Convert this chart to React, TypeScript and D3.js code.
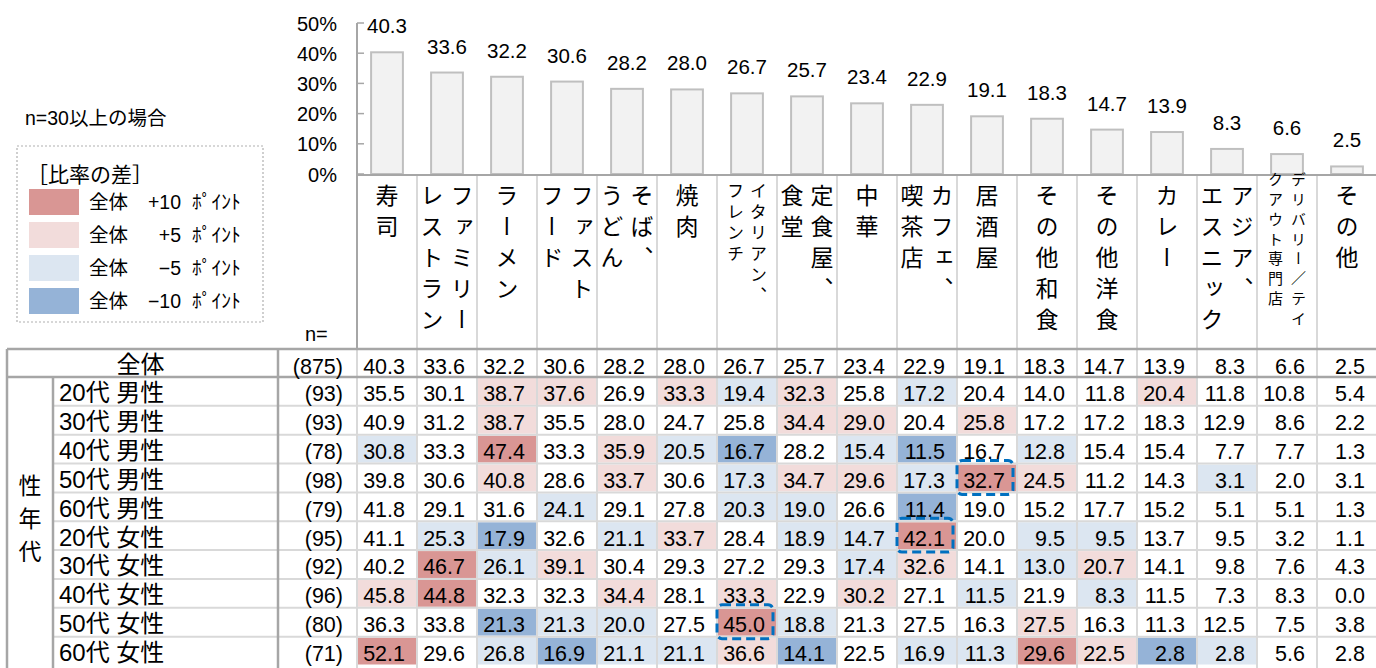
import React from 'react';
import * as d3 from 'd3';

const categories = ['寿司', 'ファミリーレストラン', 'ラーメン', 'ファストフード', 'そば、うどん', '焼肉', 'イタリアン、フレンチ', '定食屋、食堂', '中華', 'カフェ、喫茶店', '居酒屋', 'その他和食', 'その他洋食', 'カレー', 'アジア、エスニック', 'デリバリー／テイクアウト専門店', 'その他'];

// vertical header columns, listed right-to-left
const headerLines = [['寿司'], ['ファミリー', 'レストラン'], ['ラーメン'], ['ファスト', 'フード'], ['そば、', 'うどん'], ['焼肉'], ['イタリアン、', 'フレンチ'], ['定食屋、', '食堂'], ['中華'], ['カフェ、', '喫茶店'], ['居酒屋'], ['その他和食'], ['その他洋食'], ['カレー'], ['アジア、', 'エスニック'], ['デリバリー／テイ', 'クアウト専門店'], ['その他']];

const totalLabel = '全体';
const totalN = 875;
const totalValues = [40.3, 33.6, 32.2, 30.6, 28.2, 28.0, 26.7, 25.7, 23.4, 22.9, 19.1, 18.3, 14.7, 13.9, 8.3, 6.6, 2.5];

const groupLabel = '性年代';
const rowLabels = ['20代 男性', '30代 男性', '40代 男性', '50代 男性', '60代 男性', '20代 女性', '30代 女性', '40代 女性', '50代 女性', '60代 女性'];
const rowN = [93, 93, 78, 98, 79, 95, 92, 96, 80, 71];
const rowValues = [
  [35.5, 30.1, 38.7, 37.6, 26.9, 33.3, 19.4, 32.3, 25.8, 17.2, 20.4, 14.0, 11.8, 20.4, 11.8, 10.8, 5.4],
  [40.9, 31.2, 38.7, 35.5, 28.0, 24.7, 25.8, 34.4, 29.0, 20.4, 25.8, 17.2, 17.2, 18.3, 12.9, 8.6, 2.2],
  [30.8, 33.3, 47.4, 33.3, 35.9, 20.5, 16.7, 28.2, 15.4, 11.5, 16.7, 12.8, 15.4, 15.4, 7.7, 7.7, 1.3],
  [39.8, 30.6, 40.8, 28.6, 33.7, 30.6, 17.3, 34.7, 29.6, 17.3, 32.7, 24.5, 11.2, 14.3, 3.1, 2.0, 3.1],
  [41.8, 29.1, 31.6, 24.1, 29.1, 27.8, 20.3, 19.0, 26.6, 11.4, 19.0, 15.2, 17.7, 15.2, 5.1, 5.1, 1.3],
  [41.1, 25.3, 17.9, 32.6, 21.1, 33.7, 28.4, 18.9, 14.7, 42.1, 20.0, 9.5, 9.5, 13.7, 9.5, 3.2, 1.1],
  [40.2, 46.7, 26.1, 39.1, 30.4, 29.3, 27.2, 29.3, 17.4, 32.6, 14.1, 13.0, 20.7, 14.1, 9.8, 7.6, 4.3],
  [45.8, 44.8, 32.3, 32.3, 34.4, 28.1, 33.3, 22.9, 30.2, 27.1, 11.5, 21.9, 8.3, 11.5, 7.3, 8.3, 0.0],
  [36.3, 33.8, 21.3, 21.3, 20.0, 27.5, 45.0, 18.8, 21.3, 27.5, 16.3, 27.5, 16.3, 11.3, 12.5, 7.5, 3.8],
  [52.1, 29.6, 26.8, 16.9, 21.1, 21.1, 36.6, 14.1, 22.5, 16.9, 11.3, 29.6, 22.5, 2.8, 2.8, 5.6, 2.8],
];
// difference level vs total: 2 = +10pt, 1 = +5pt, -1 = -5pt, -2 = -10pt
const rowLevels = [
  [0, 0, 1, 1, 0, 1, -1, 1, 0, -1, 0, 0, 0, 1, 0, 0, 0],
  [0, 0, 1, 0, 0, 0, 0, 1, 1, 0, 1, 0, 0, 0, 0, 0, 0],
  [-1, 0, 2, 0, 1, -1, -2, 0, -1, -2, 0, -1, 0, 0, 0, 0, 0],
  [0, 0, 1, 0, 1, 0, -1, 1, 1, -1, 2, 1, 0, 0, -1, 0, 0],
  [0, 0, 0, -1, 0, 0, -1, -1, 0, -2, 0, 0, 0, 0, 0, 0, 0],
  [0, -1, -2, 0, -1, 1, 0, -1, -1, 2, 0, -1, -1, 0, 0, 0, 0],
  [0, 2, -1, 1, 0, 0, 0, 0, -1, 1, 0, -1, 1, 0, 0, 0, 0],
  [1, 2, 0, 0, 1, 0, 1, 0, 1, 0, -1, 0, -1, 0, 0, 0, 0],
  [0, 0, -2, -1, -1, 0, 2, -1, 0, 0, 0, 1, 0, 0, 0, 0, 0],
  [2, 0, -1, -2, -1, -1, 1, -2, 0, -1, -1, 2, 1, -2, -1, 0, 0],
];
const highlights = [
  { row: 3, col: 10 },
  { row: 5, col: 9 },
  { row: 8, col: 6 },
];

const legendTitle = '［比率の差］';
const legendLevels = [2, 1, -1, -2];
const legendLabels = ['+10', '+5', '−5', '−10'];
const legendUnit = 'ﾎﾟｲﾝﾄ';
const noteText = 'n=30以上の場合';
const axisTicks = [0, 10, 20, 30, 40, 50];

const levelColor: Record<string, string> = { '2': '#d99694', '1': '#f2dcdb', '-1': '#dce6f1', '-2': '#95b3d7', '0': 'none' };

const NUM = "'Liberation Sans', Arial, sans-serif";
const JP = "'Liberation Sans', 'Noto Sans CJK JP', sans-serif";
const DARK = '#a6a6a6';
const LIGHT = '#d9d9d9';

export default function App() {
  const W = 1376, H = 668;
  const x = d3.scaleBand<string>().domain(categories).range([357, 357 + 60 * categories.length]);
  const bw = x.bandwidth();
  const y = d3.scaleLinear().domain([0, 50]).range([174, 23]);
  const rowY = d3.scaleBand<string>().domain(rowLabels).range([377, 377 + 28.85 * rowLabels.length]);
  const rh = rowY.bandwidth();
  const totalTop = 349, totalBottom = 377;
  const tableLeft = 7, labelSep = 278, groupSep = 53;
  const barW = bw * 0.53;
  const fmt = d3.format('.1f');

  return (
    <svg width={W} height={H} style={{ position: 'absolute', left: 0, top: 0, background: '#fff' }}>
      <rect x={0} y={0} width={W} height={H} fill="#fff" />
      {/* note */}
      <text x={25} y={125} fontSize={19.5} fontFamily={JP} fill="#000">{noteText}</text>

      {/* legend */}
      <rect x={17} y={146} width={246} height={176} fill="none" stroke="#b0b0b0" strokeWidth={1.2} strokeDasharray="2 2" />
      <text x={27} y={182} fontSize={21} fontFamily={JP}>{legendTitle}</text>
      {legendLevels.map((lv, i) => {
        const cy = 202 + i * 33;
        return (
          <g key={i}>
            <rect x={29} y={cy - 13} width={50} height={26} fill={levelColor[String(lv)]} />
            <text x={89} y={cy + 7} fontSize={19.5} fontFamily={JP}>{totalLabel}</text>
            <text x={181} y={cy + 7} fontSize={19.5} fontFamily={NUM} textAnchor="end">{legendLabels[i]}</text>
            <text x={192} y={cy + 7} fontSize={19.5} fontFamily={JP}>{legendUnit}</text>
          </g>
        );
      })}

      {/* bar axis */}
      {axisTicks.map((t) => (
        <g key={t}>
          <line x1={357} x2={364} y1={y(t)} y2={y(t)} stroke={DARK} strokeWidth={1.5} />
          <text x={337} y={y(t) + 7.5} fontSize={20} fontFamily={NUM} textAnchor="end">{t}%</text>
        </g>
      ))}

      {/* bars */}
      {categories.map((c, i) => {
        const cx = (x(c) as number) + bw / 2;
        const top = y(totalValues[i]);
        return (
          <g key={c}>
            <rect x={cx - barW / 2} y={top} width={barW} height={y(0) - top} fill="#f2f2f2" stroke="#bfbfbf" strokeWidth={2} />
            <text x={cx} y={top - 19} fontSize={20.5} fontFamily={NUM} textAnchor="middle">{fmt(totalValues[i])}</text>
          </g>
        );
      })}
      <line x1={357} x2={W} y1={175} y2={175} stroke={DARK} strokeWidth={2} />

      {/* header column separators */}
      {categories.slice(1).map((c) => (
        <line key={c} x1={x(c) as number} x2={x(c) as number} y1={176} y2={H} stroke={LIGHT} strokeWidth={2} />
      ))}

      {/* vertical headers */}
      {categories.map((c, i) => {
        const lines = headerLines[i];
        const small = d3.max(lines, (l) => l.length)! >= 6;
        const tiny = lines[0].length >= 8;
        const cx = (x(c) as number) + bw / 2;
        const off = small ? 11.5 : 15;
        const fs = small ? (tiny ? 15 : 17) : 23;
        const ls = small ? (tiny ? 4.8 : 4) : 8;
        const top = small ? (tiny ? 172 : 182) : 184;
        return lines.map((l, j) => {
          const lx = lines.length === 1 ? cx : (j === 0 ? cx + off : cx - off);
          return (
            <text key={c + j} x={lx} y={top} fontSize={fs} letterSpacing={ls} fontFamily="'Noto Sans CJK JP', sans-serif" style={{ writingMode: 'vertical-rl' }}>{l}</text>
          );
        });
      })}

      <text x={305} y={341} fontSize={20} fontFamily={NUM}>n=</text>

      {/* cell fills */}
      {rowLabels.map((r, ri) => rowLevels[ri].map((lv, ci) => lv === 0 ? null : (
        <rect key={r + ci} x={(x(categories[ci]) as number) + 1} y={(rowY(r) as number) + 1} width={bw - 2} height={rh - 2} fill={levelColor[String(lv)]} />
      )))}

      {/* row lines */}
      {rowLabels.slice(1).map((r) => (
        <line key={r} x1={groupSep} x2={W} y1={rowY(r) as number} y2={rowY(r) as number} stroke={LIGHT} strokeWidth={2} />
      ))}
      <line x1={357} x2={357} y1={totalTop} y2={H} stroke={LIGHT} strokeWidth={2} />

      {/* strong lines */}
      <line x1={357} x2={357} y1={y(50)} y2={totalTop} stroke={DARK} strokeWidth={2} />
      <line x1={tableLeft} x2={W} y1={totalTop} y2={totalTop} stroke={DARK} strokeWidth={2.5} />
      <line x1={tableLeft} x2={W} y1={totalBottom} y2={totalBottom} stroke={DARK} strokeWidth={2.5} />
      <line x1={tableLeft} x2={tableLeft} y1={totalTop} y2={H} stroke={DARK} strokeWidth={2.5} />
      <line x1={labelSep} x2={labelSep} y1={totalTop} y2={H} stroke={DARK} strokeWidth={2.5} />
      <line x1={groupSep} x2={groupSep} y1={totalBottom} y2={H} stroke={DARK} strokeWidth={2.5} />

      {/* total row */}
      <text x={(tableLeft + labelSep) / 2 - 2} y={totalBottom - 4} fontSize={24} fontFamily={JP} textAnchor="middle">{totalLabel}</text>
      <text x={343} y={totalBottom - 3} fontSize={21.5} fontFamily={NUM} textAnchor="end">({totalN})</text>
      {categories.map((c, i) => (
        <text key={c} x={(x(c) as number) + bw - 12} y={totalBottom - 3} fontSize={21.5} fontFamily={NUM} textAnchor="end">{fmt(totalValues[i])}</text>
      ))}

      {/* group label */}
      <text x={30} y={474} fontSize={23} letterSpacing={10} fontFamily="'Noto Sans CJK JP', sans-serif" style={{ writingMode: 'vertical-rl' }}>{groupLabel}</text>

      {/* rows */}
      {rowLabels.map((r, ri) => {
        const base = (rowY(r) as number) + rh - 4.5;
        return (
          <g key={r}>
            <text x={59} y={base} fontSize={24} fontFamily={JP}>{r}</text>
            <text x={343} y={base} fontSize={21.5} fontFamily={NUM} textAnchor="end">({rowN[ri]})</text>
            {rowValues[ri].map((v, ci) => (
              <text key={ci} x={(x(categories[ci]) as number) + bw - 12} y={base} fontSize={21.5} fontFamily={NUM} textAnchor="end">{fmt(v)}</text>
            ))}
          </g>
        );
      })}

      {/* highlighted cells */}
      {highlights.map((h, i) => (
        <rect key={i} x={(x(categories[h.col]) as number) + 0} y={(rowY(rowLabels[h.row]) as number) - 3} width={bw - 4} height={rh + 5} rx={5} fill="none" stroke="#0070c0" strokeWidth={3} strokeDasharray="9 5" />
      ))}
    </svg>
  );
}
